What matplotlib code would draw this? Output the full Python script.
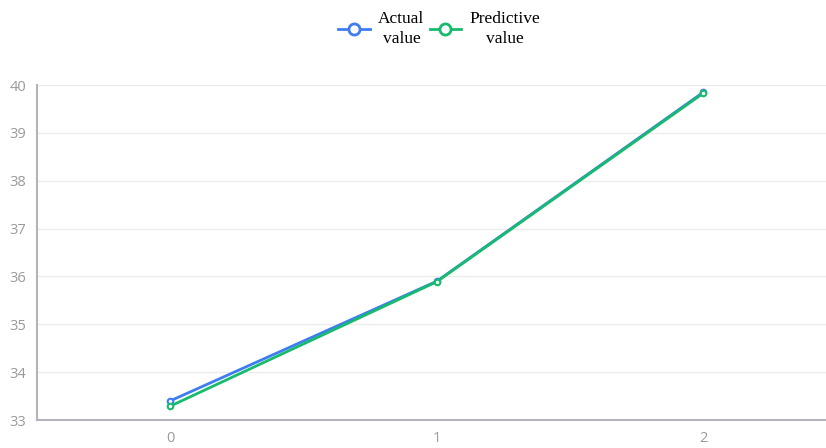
"""Actual vs predictive value line chart."""

import matplotlib

matplotlib.use("Agg")
import matplotlib.pyplot as plt

categories = ["0", "1", "2"]
actual_values = [33.40, 35.90, 39.85]
predictive_values = [33.29, 35.89, 39.83]

BLUE = "#3f7cf2"
GREEN = "#17bb6d"
AXIS_GRAY = "#b4b4bc"
GRID_GRAY = "#ececec"
LABEL_GRAY = "#9a9a9a"


def main() -> None:
    fig = plt.figure(figsize=(8.26, 4.48), dpi=100)
    ax = fig.add_axes([37 / 826, 28 / 448, 1 - 37 / 826, 335 / 448])

    xs = list(range(len(categories)))
    ax.plot(xs, actual_values, color=BLUE, linewidth=2, marker="o", markersize=4,
            markerfacecolor="white", markeredgewidth=1.5, label="Actual\nvalue", zorder=3)
    ax.plot(xs, predictive_values, color=GREEN, linewidth=2, marker="o", markersize=4,
            markerfacecolor="white", markeredgewidth=1.5, label="Predictive\nvalue", zorder=4)

    ax.set_xlim(-0.5, 2.46)
    ax.set_ylim(33, 40)
    ax.set_xticks(xs)
    ax.set_xticklabels(categories)
    ax.set_yticks(range(33, 41))

    ax.grid(axis="y", color=GRID_GRAY, linewidth=1)
    ax.set_axisbelow(True)
    for side in ("top", "right"):
        ax.spines[side].set_visible(False)
    for side in ("left", "bottom"):
        ax.spines[side].set_color(AXIS_GRAY)
        ax.spines[side].set_linewidth(1.5)
    ax.tick_params(axis="both", length=0, labelsize=10.5, labelcolor=LABEL_GRAY)
    ax.tick_params(axis="y", pad=8)
    ax.tick_params(axis="x", pad=8)
    for lbl in ax.get_xticklabels() + ax.get_yticklabels():
        lbl.set_family("Open Sans")

    # hollow-circle legend centred above the plot
    handles = [
        plt.Line2D([], [], color=BLUE, linewidth=2, marker="o", markersize=8,
                   markerfacecolor="white", markeredgewidth=2),
        plt.Line2D([], [], color=GREEN, linewidth=2, marker="o", markersize=8,
                   markerfacecolor="white", markeredgewidth=2),
    ]
    leg = fig.legend(handles, ["Actual\nvalue", "Predictive\nvalue"], loc="upper center",
                     bbox_to_anchor=(0.532, 1.01), ncol=2, frameon=False,
                     prop={"family": "Liberation Serif", "size": 12.5},
                     handlelength=1.8, handletextpad=0.5, columnspacing=0.3)
    for txt in leg.get_texts():
        txt.set_multialignment("center")
        txt.set_linespacing(1.35)

    fig.savefig("out.png", dpi=100)


if __name__ == "__main__":
    main()
